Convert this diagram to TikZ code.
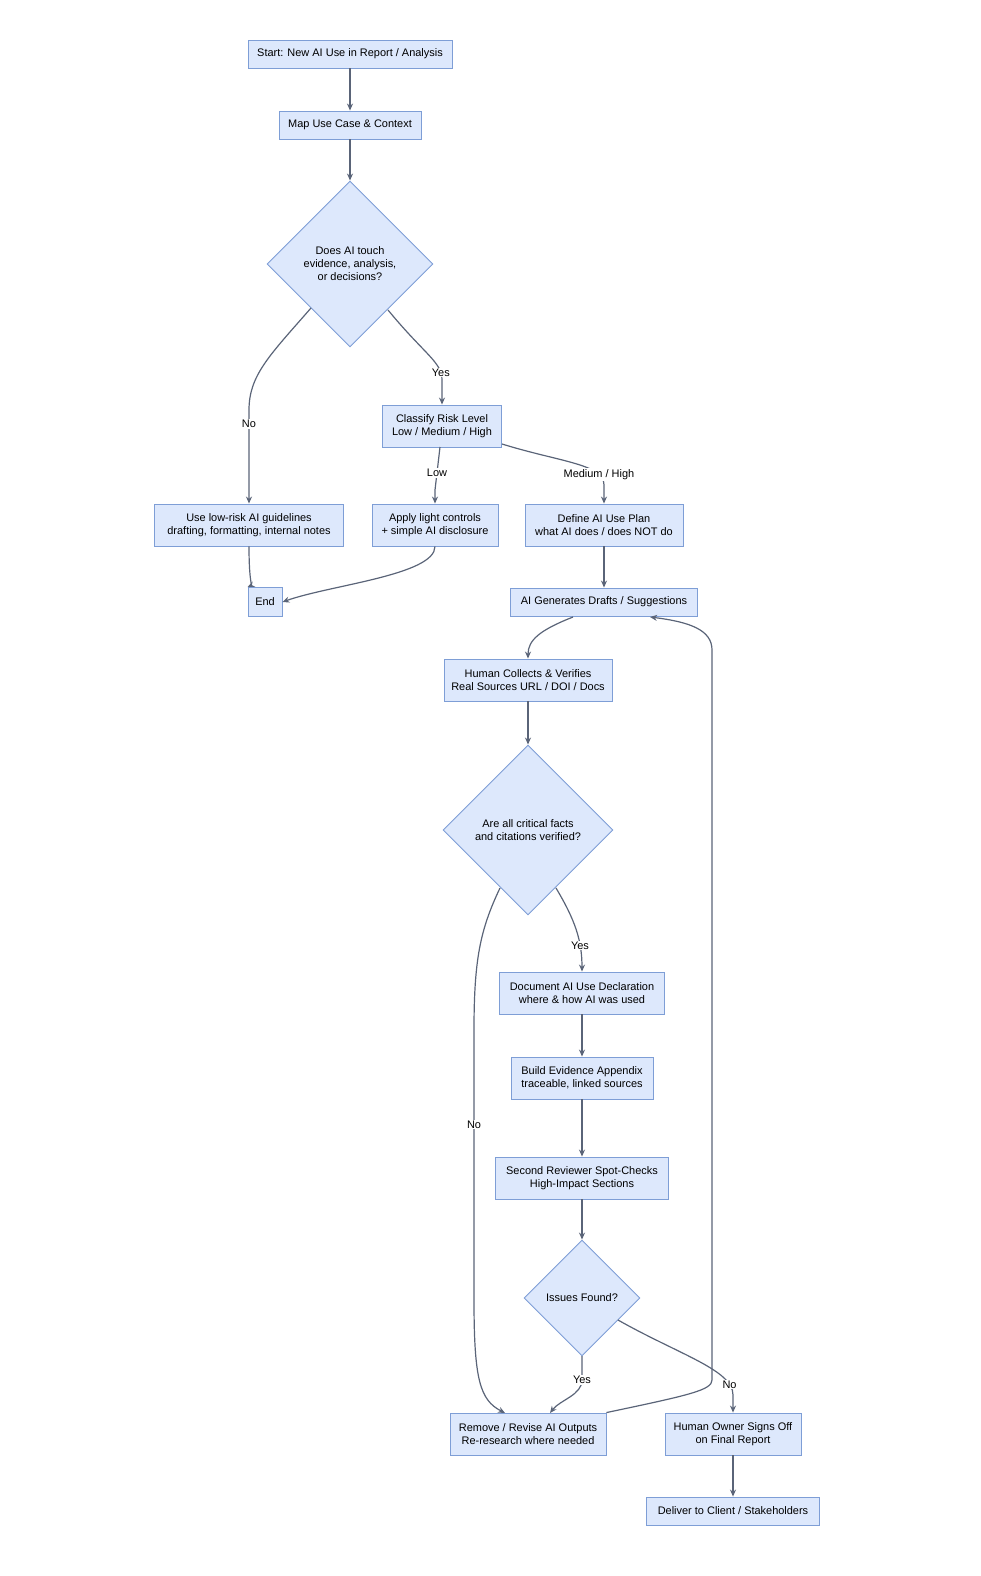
\documentclass[tikz,border=0pt]{standalone}
\usepackage{fontspec}
\setmainfont{Liberation Sans}
\usetikzlibrary{shapes.geometric,arrows.meta}
\definecolor{boxfill}{HTML}{DDE8FC}
\definecolor{boxline}{HTML}{7E9ED6}
\definecolor{edge}{HTML}{5A6478}
\begin{document}
\begin{tikzpicture}[x=1bp,y=-1bp,
  every node/.style={font=\fontsize{11}{13}\selectfont},
  box/.style={draw=boxline,fill=boxfill,line width=0.9pt,align=center,inner sep=0pt,minimum height=#1},
  box/.default=28bp,
  dia/.style={diamond,draw=boxline,fill=boxfill,line width=0.9pt,align=center,inner sep=0pt,aspect=1},
  arr/.style={draw=edge,line width=1.2pt,-{Stealth[length=7pt,width=6pt]}},
  lbl/.style={fill=white,inner sep=1pt}]
\useasboundingbox (0,0) rectangle (980,1576);
\node[box,minimum width=204bp] (start) at (350,54) {Start: New AI Use in Report / Analysis};
\node[box,minimum width=142bp] (map) at (350,125) {Map Use Case \& Context};
\node[dia,minimum width=166bp,minimum height=166bp] (d1) at (350,264) {Does AI touch\\evidence, analysis,\\or decisions?};
\node[box=42bp,minimum width=119bp] (cls) at (442,426) {Classify Risk Level\\Low / Medium / High};
\node[box=42bp,minimum width=189bp] (low) at (249,525) {Use low-risk AI guidelines\\drafting, formatting, internal notes};
\node[box=42bp,minimum width=126bp] (apply) at (435,525) {Apply light controls\\+ simple AI disclosure};
\node[box=42bp,minimum width=158bp] (def) at (604,525) {Define AI Use Plan\\what AI does / does NOT do};
\node[box=29bp,minimum width=34bp] (end) at (265,602) {End};
\node[box,minimum width=187bp] (gen) at (604,602) {AI Generates Drafts / Suggestions};
\node[box=42bp,minimum width=168bp] (hum) at (528,680) {Human Collects \& Verifies\\Real Sources URL / DOI / Docs};
\node[dia,minimum width=170bp,minimum height=170bp] (d2) at (528,830) {Are all critical facts\\and citations verified?};
\node[box=42bp,minimum width=165bp] (doc) at (582,993) {Document AI Use Declaration\\where \& how AI was used};
\node[box=42bp,minimum width=142bp] (bld) at (582,1078) {Build Evidence Appendix\\traceable, linked sources};
\node[box=42bp,minimum width=173bp] (sec) at (582,1178) {Second Reviewer Spot-Checks\\High-Impact Sections};
\node[dia,minimum width=116bp,minimum height=116bp] (d3) at (582,1298) {Issues Found?};
\node[box=42bp,minimum width=156bp] (rem) at (528,1434) {Remove / Revise AI Outputs\\Re-research where needed};
\node[box=42bp,minimum width=136bp] (own) at (733,1434) {Human Owner Signs Off\\on Final Report};
\node[box,minimum width=173bp] (del) at (733,1511) {Deliver to Client / Stakeholders};
\coordinate (loopA) at (712,1380);
\coordinate (loopB) at (712,650);

\draw[arr] (start) -- (map);
\draw[arr] (map) -- (d1);
\draw[arr] (311,308) .. controls (270,355) and (249,375) .. (249,410) -- (low.north) node[lbl,pos=0.15] {No};
\draw[arr] (388,310) .. controls (425,355) and (442,362) .. (442,380) node[lbl,pos=0.85] {Yes} -- (cls.north);
\draw[arr] (440,447) -- (435,490) node[lbl,pos=0.6] {Low} -- (apply.north);
\draw[arr] (502,444) .. controls (560,462) and (604,464) .. (604,485) node[lbl,pos=0.8] {Medium / High} -- (def.north);
\draw[arr] (low.south) .. controls (249,580) and (252,585) .. (end.north west);
\draw[arr] (apply.south) .. controls (435,575) and (330,585) .. (end.east);
\draw[arr] (def) -- (gen);
\draw[arr] (573,617) .. controls (540,630) and (528,640) .. (hum.north);
\draw[arr] (556,888) .. controls (575,920) and (582,940) .. (doc.north) node[lbl,pos=0.7] {Yes};
\draw[arr] (hum) -- (d2);
\draw[arr] (500,888) .. controls (480,930) and (474,960) .. (474,1030) -- (474,1300) node[lbl,pos=0.35] {No} .. controls (474,1380) and (480,1400) .. (505,1413);
\draw[arr] (doc) -- (bld);
\draw[arr] (bld) -- (sec);
\draw[arr] (sec) -- (d3);
\draw[arr] (582,1356) -- (582,1380) node[lbl,pos=1] {Yes} .. controls (582,1395) and (560,1400) .. (550,1413);
\draw[arr] (618,1320) .. controls (680,1355) and (733,1370) .. (733,1395) node[lbl,pos=0.85] {No} -- (own.north);
\draw[arr] (rem.north east) .. controls (690,1395) and (712,1390) .. (loopA) -- (loopB) .. controls (712,630) and (690,622) .. (650,617);
\draw[arr] (own) -- (del);
\end{tikzpicture}
\end{document}
